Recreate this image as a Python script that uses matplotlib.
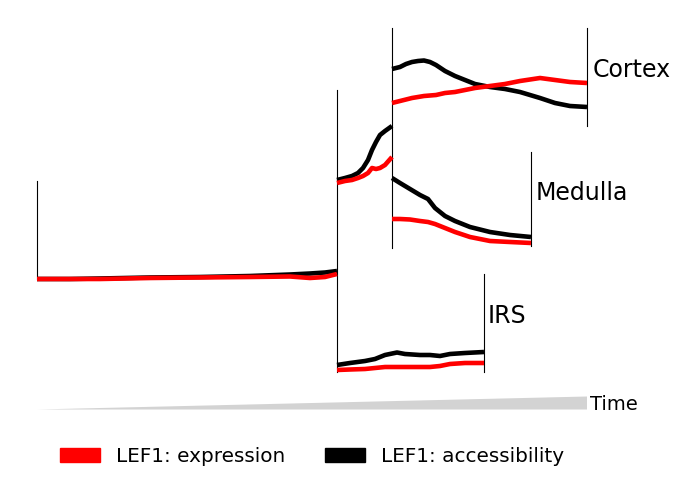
import numpy as np
import matplotlib
matplotlib.use("Agg")
import matplotlib.pyplot as plt
from matplotlib.patches import Patch, Polygon

# ---- data (in plot units) ----
# root segment
root_t = [37, 70, 100, 150, 200, 250, 290, 310, 325, 337]
root_expr = [279, 279, 279, 278, 277.5, 277, 276.5, 278, 277, 274]
root_acc = [279, 279, 278.5, 277.5, 277, 276, 274.5, 273.5, 272.5, 271]

# pre-branch segment
pre_t = [337, 345, 352, 358, 363, 368, 372, 376, 380, 385, 392]
pre_expr = [183, 181, 180, 178, 176, 173, 168, 169, 168, 165, 157]
pre_acc = [180, 178, 176, 173, 168, 160, 150, 142, 135, 131, 126]

# Cortex
cor_t = [392, 400, 406, 412, 418, 424, 430, 436, 445, 455, 465, 475, 490, 505, 520, 540, 555, 570, 587]
cor_expr = [103, 101, 99.5, 98, 97, 96, 95.5, 95, 93, 92, 90, 88, 86, 84, 81, 78, 80, 82, 83]
cor_acc = [69, 67, 64, 62, 61, 60.5, 62, 65, 71, 76, 80, 84, 87, 89, 92, 98, 103, 106, 107]

# Medulla
med_t = [392, 400, 410, 420, 428, 435, 445, 455, 470, 490, 510, 531]
med_expr = [219, 219, 219.5, 221, 222, 224, 228, 232, 237, 241, 242, 243]
med_acc = [178, 183, 189, 195, 199, 208, 216, 221, 227, 232, 235, 237]

# IRS
irs_t = [337, 350, 365, 375, 385, 397, 405, 420, 430, 440, 450, 465, 484]
irs_expr = [370, 369.5, 369, 368, 367, 367, 367, 367, 367, 366, 364, 363, 363]
irs_acc = [365, 363, 361, 359, 355, 352.5, 354, 355, 355, 356, 354, 353, 352]

segments = [
    (root_t, root_expr, root_acc),
    (pre_t, pre_expr, pre_acc),
    (cor_t, cor_expr, cor_acc),
    (med_t, med_expr, med_acc),
    (irs_t, irs_expr, irs_acc),
]

# vertical guides: (t, top, bottom)
guides = [(37, 181, 279), (337, 90, 372), (392, 28, 248),
          (587, 28, 126), (531, 152, 246), (484, 274, 372)]

labels = ["Cortex", "Medulla", "IRS"]
label_pos = [(593, 70), (536, 193), (488, 316)]

fig = plt.figure(figsize=(6.81, 4.84), dpi=100)
ax = fig.add_axes([0, 0, 1, 1])
ax.set_xlim(0, 681)
ax.set_ylim(484, 0)
ax.axis("off")

for t, top, bot in guides:
    ax.plot([t, t], [top, bot], color="black", lw=0.8)

for t, expr, acc in segments:
    ax.plot(t, acc, color="black", lw=3.3, solid_capstyle="butt", solid_joinstyle="round")
    ax.plot(t, expr, color="red", lw=3.3, solid_capstyle="butt", solid_joinstyle="round")

for lab, (x, y) in zip(labels, label_pos):
    ax.text(x, y, lab, fontsize=17, va="center", ha="left")

# time wedge
ax.add_patch(Polygon([[37, 409.5], [587, 396.5], [587, 409.5]],
                     closed=True, color="lightgray", lw=0))
ax.text(590, 404, "Time", fontsize=14, va="center", ha="left")

handles = [Patch(color="red", label="LEF1: expression"),
           Patch(color="black", label="LEF1: accessibility")]
fig.legend(handles=handles, loc="center", ncol=2, frameon=False, fontsize=14.4,
           bbox_to_anchor=(312 / 681, 1 - 456 / 484))

fig.savefig("out.png", dpi=100)
